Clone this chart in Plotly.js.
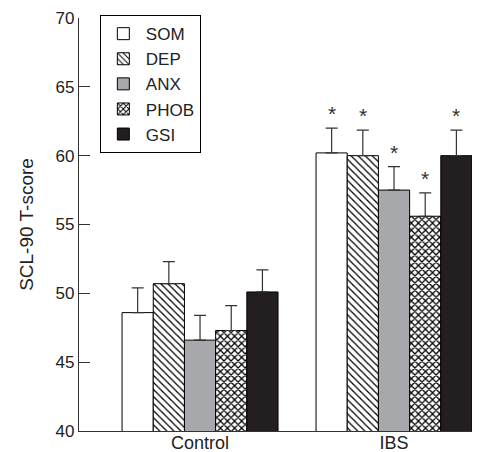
<!DOCTYPE html>
<html>
<head>
<meta charset="utf-8">
<script src="https://cdn.plot.ly/plotly-3.0.1.min.js"></script>
<style>html,body{margin:0;padding:0;background:#fff;}#chart{width:482px;height:452px;}</style>
</head>
<body>
<div id="chart"></div>
<script>
var groups = ["Control", "IBS"];
var seriesNames = ["SOM", "DEP", "ANX", "PHOB", "GSI"];
var SOM = [48.6, 60.2];
var DEP = [50.7, 60.0];
var ANX = [46.6, 57.5];
var PHOB = [47.3, 55.6];
var GSI = [50.1, 60.0];
var SOM_err = [1.8, 1.8];
var DEP_err = [1.6, 1.85];
var ANX_err = [1.8, 1.7];
var PHOB_err = [1.8, 1.7];
var GSI_err = [1.6, 1.85];
var significant = [[false, true], [false, true], [false, true], [false, true], [false, true]];
var yTicks = [40, 45, 50, 55, 60, 65, 70];

var values = [SOM, DEP, ANX, PHOB, GSI];
var errs = [SOM_err, DEP_err, ANX_err, PHOB_err, GSI_err];
var styles = [
  {color: "#ffffff", pattern: {shape: ""}},
  {color: "#ffffff", pattern: {shape: "\\", fgcolor: "#000000", bgcolor: "#ffffff", size: 5, solidity: 0.25, fillmode: "replace"}},
  {color: "#a6a8ab", pattern: {shape: ""}},
  {color: "#ffffff", pattern: {shape: "x", fgcolor: "#000000", bgcolor: "#ffffff", size: 5, solidity: 0.45, fillmode: "replace"}},
  {color: "#231f20", pattern: {shape: ""}}
];
var bargap = 0.196;
var traces = [];
for (var i = 0; i < seriesNames.length; i++) {
  traces.push({
    type: "bar",
    name: seriesNames[i],
    x: [0, 1],
    y: values[i],
    marker: {color: styles[i].color, pattern: styles[i].pattern, line: {color: "#000000", width: 1}},
    error_y: {type: "data", symmetric: false, array: errs[i], arrayminus: [0, 0], color: "#333333", thickness: 1.2, width: 6},
    hoverinfo: "skip"
  });
}
var annotations = [];
var bw = (1 - bargap) / seriesNames.length;
for (var i = 0; i < seriesNames.length; i++) {
  for (var g = 0; g < groups.length; g++) {
    if (significant[i][g]) {
      annotations.push({
        x: g + (i - (seriesNames.length - 1) / 2) * bw,
        y: values[i][g] + errs[i][g],
        xref: "x", yref: "y",
        text: "*", showarrow: false,
        yanchor: "bottom", yshift: 1,
        font: {family: "Liberation Sans, Arial, sans-serif", size: 21, color: "#333"}
      });
    }
  }
}
var layout = {
  width: 482, height: 452,
  margin: {l: 79, r: 10, t: 18, b: 21},
  paper_bgcolor: "#ffffff", plot_bgcolor: "#ffffff",
  font: {family: "Liberation Sans, Arial, sans-serif", color: "#222222", size: 17},
  barmode: "group", bargap: bargap, bargroupgap: 0,
  showlegend: true,
  legend: {
    x: 0.053, y: 1.007, xanchor: "left", yanchor: "top",
    bordercolor: "#000000", borderwidth: 1, bgcolor: "#ffffff",
    font: {size: 17, color: "#222"}, traceorder: "normal",
    itemwidth: 35
  },
  xaxis: {
    range: [-0.624, 1.402],
    tickvals: [0, 1], ticktext: groups,
    showline: true, linecolor: "#333333", linewidth: 1.2,
    ticks: "", showgrid: false, zeroline: false,
    ticklabelstandoff: -5,
    tickfont: {size: 18}
  },
  yaxis: {
    range: [40, 70],
    tickvals: yTicks,
    showline: true, linecolor: "#333333", linewidth: 1.2,
    ticks: "inside", ticklen: 11, tickcolor: "#333333", tickwidth: 1.2,
    showgrid: false, zeroline: false,
    tickfont: {size: 17},
    title: {text: "SCL-90 T-score", font: {size: 19}, standoff: 16}
  },
  annotations: annotations
};
Plotly.newPlot("chart", traces, layout, {displayModeBar: false, staticPlot: true});
</script>
</body>
</html>
